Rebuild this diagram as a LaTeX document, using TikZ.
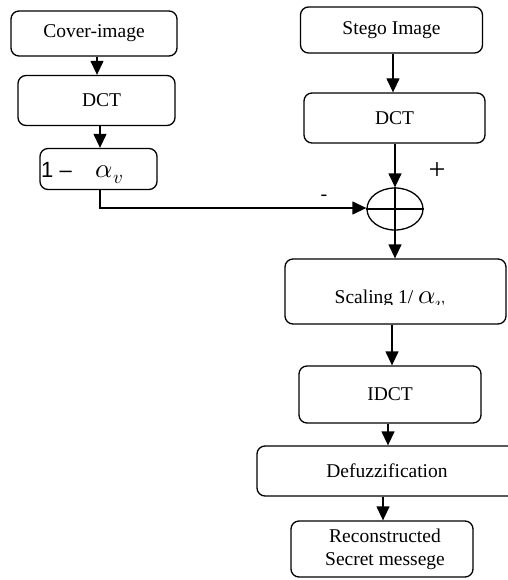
\documentclass[tikz,border=0pt]{standalone}
\usepackage{fontspec}
\usepackage{unicode-math}
\setmainfont{Liberation Serif}
\setmathfont{Latin Modern Math}
\newfontfamily\sansf{Liberation Sans}
\usetikzlibrary{arrows.meta,shapes.geometric}
\tikzset{
  blk/.style={draw=black,line width=1.3pt,rounded corners=8pt,inner sep=0pt,
    font=\fontsize{19.5}{23}\selectfont,align=center},
  arr/.style={line width=1.3pt,-{Triangle[length=14pt,width=13pt]}},
  ln/.style={line width=1.3pt},
  sgn/.style={inner sep=0pt}
}
\begin{document}
\begin{tikzpicture}[x=1pt,y=-1pt]
\useasboundingbox[fill=white] (0,0) rectangle (507,580);
% left column
\node[blk,minimum width=166pt,minimum height=45pt] (cover) at (94,33.5) {Cover-image};
\node[blk,minimum width=157pt,minimum height=50pt] (dct1) at (96.5,100.5) {\hspace*{10pt}DCT};
\node[blk,minimum width=117pt,minimum height=41pt] (alpha) at (98.5,169) {};
\node[inner sep=0pt,anchor=base west] (alphatxt) at (41,177) {{\sansf\fontsize{22}{22}\selectfont 1 –}\hspace{24pt}{\fontsize{27}{27}\selectfont$\alpha_{v}$}};
% right column
\node[blk,minimum width=182pt,minimum height=46pt] (stego) at (391.5,30) {Stego Image};
\node[blk,minimum width=181pt,minimum height=50pt] (dct2) at (394.5,118) {DCT};
\node[draw=black,line width=1.3pt,ellipse,minimum width=56pt,minimum height=42pt,inner sep=0pt] (sum) at (395,209) {};
\draw[ln] (sum.north) -- (sum.south);
\draw[ln] (sum.west) -- (sum.east);
\node[sgn,font=\fontsize{30}{30}\selectfont] (plus) at (437,171) {+};
\node[sgn,font=\fontsize{20}{20}\selectfont] (minus) at (324,198) {-};
\node[blk,minimum width=221pt,minimum height=65pt] (scal) at (395.5,291.5) {};
\begin{scope}
\clip (280,250) rectangle (505,304.5);
\node[font=\fontsize{19.5}{23}\selectfont,inner sep=0pt,anchor=base] (scaltxt) at (390,303) {Scaling 1/ {\fontsize{27}{27}\selectfont$\alpha_{v}$}};
\end{scope}
\node[blk,minimum width=182pt,minimum height=57pt] (idct) at (390,394.5) {IDCT};
\node[blk,minimum width=260pt,minimum height=50pt] (defuz) at (387,471) {Defuzzification};
\node[blk,minimum width=182pt,minimum height=56pt] (recon) at (382,549) {\hspace*{6pt}Reconstructed\\\hspace*{6pt}Secret messege};
% connectors
\draw[arr] (97,0 |- cover.south) -- (97,0 |- dct1.north);
\draw[arr] (100,0 |- dct1.south) -- (100,0 |- alpha.north);
\coordinate (turn) at (100,208);
\draw[ln,-{Triangle[length=14pt,width=13pt]}] (100,0 |- alpha.south) -- (turn) -- (sum.west |- turn);
\draw[arr] (393,0 |- stego.south) -- (393,0 |- dct2.north);
\draw[arr] (dct2.south -| sum.north) -- (sum.north);
\draw[arr] (sum.south) -- (sum.south |- scal.north);
\draw[arr] (392,0 |- scal.south) -- (392,0 |- idct.north);
\draw[arr] (388,0 |- idct.south) -- (388,0 |- defuz.north);
\draw[arr] (383,0 |- defuz.south) -- (383,0 |- recon.north);
\end{tikzpicture}
\end{document}
